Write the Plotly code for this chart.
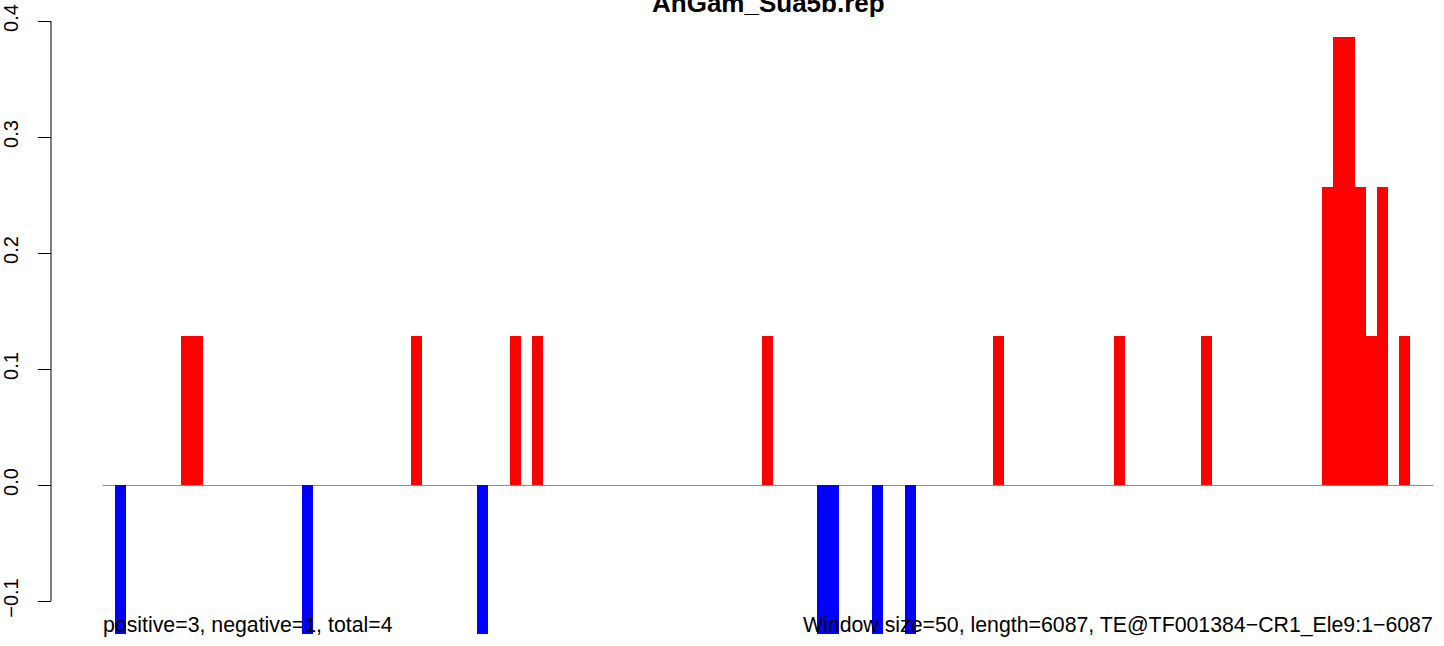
import plotly.graph_objects as go

# ---- data ----
window_size = 50
window_index = [0, 6, 7, 17, 27, 33, 36, 38, 59, 64, 65, 69, 72, 80, 91, 99,
                110, 111, 112, 113, 114, 115, 117]
values = [-0.1286, 0.1286, 0.1286, -0.1286, 0.1286, -0.1286, 0.1286, 0.1286,
          0.1286, -0.1286, -0.1286, -0.1286, -0.1286, 0.1286, 0.1286, 0.1286,
          0.2572, 0.3858, 0.3858, 0.2572, 0.1286, 0.2572, 0.1286]
y_ticks = [-0.1, 0.0, 0.1, 0.2, 0.3, 0.4]
y_tick_labels = ["\u22120.1", "0.0", "0.1", "0.2", "0.3", "0.4"]
title = "AnGam_Sua5b.rep"
left_note = "positive=3, negative=1, total=4"
right_note = "Window size=50, length=6087, TE@TF001384\u2212CR1_Ele9:1\u22126087"

W, H = 1444, 646
FONT = "Liberation Sans, Arial, Helvetica, sans-serif"

centers = [i * window_size + window_size / 2 for i in window_index]
colors = ["#FF0000" if v > 0 else "#0000FF" for v in values]

fig = go.Figure()
fig.add_trace(go.Bar(
    x=centers, y=values, width=[window_size] * len(values),
    marker=dict(color=colors, line=dict(width=0)),
    showlegend=False, hoverinfo="x+y",
))

# pixel geometry of the reference
px_left, px_right = 103, 1433          # plot region (zero line extent)
first_bar_left_px = 115
px_per_unit = 10.974 / window_size
x_range = [(px_left - first_bar_left_px) / px_per_unit,
           (px_right - first_bar_left_px) / px_per_unit]
zero_px = 485
px_per_y = 1160.0
y_range = [-(H - zero_px) / px_per_y, zero_px / px_per_y]
axis_x = 51 / W

fig.update_layout(
    width=W, height=H,
    margin=dict(l=0, r=0, t=0, b=0, autoexpand=False),
    paper_bgcolor="white", plot_bgcolor="rgba(0,0,0,0)",
    font=dict(family=FONT, color="black", size=20),
    bargap=0,
    xaxis=dict(domain=[px_left / W, px_right / W], range=x_range,
               showgrid=False, zeroline=False, showline=False,
               showticklabels=False, ticks="", fixedrange=True,
               automargin=False),
    yaxis=dict(domain=[0, 1], range=y_range,
               anchor="free", position=axis_x, side="left",
               showgrid=False,
               zeroline=True, zerolinecolor="#8C8C8C", zerolinewidth=1,
               showline=False,
               ticks="outside", ticklen=13, tickwidth=1, tickcolor="black",
               tickmode="array", tickvals=y_ticks, ticktext=y_tick_labels,
               tickangle=-90, tickfont=dict(size=20, family=FONT, color="black"),
               ticklabelstandoff=12, fixedrange=True, automargin=False),
    shapes=[
        # R-style axis line spanning only the labelled tick range
        dict(type="line", xref="paper", yref="y",
             x0=axis_x, x1=axis_x, y0=min(y_ticks), y1=max(y_ticks),
             line=dict(color="black", width=1)),
    ],
    annotations=[
        dict(text="<b>" + title + "</b>", xref="paper", yref="paper",
             x=(px_left + px_right) / 2 / W, y=1 - 19.5 / H,
             xanchor="center", yanchor="bottom", showarrow=False,
             font=dict(size=26, family=FONT, color="black")),
        dict(text=left_note, xref="paper", yref="paper",
             x=px_left / W, y=(H - 639) / H, xanchor="left", yanchor="bottom",
             xshift=-2, showarrow=False,
             font=dict(size=21.3, family=FONT, color="black")),
        dict(text=right_note, xref="paper", yref="paper",
             x=px_right / W, y=(H - 639) / H, xanchor="right", yanchor="bottom",
             xshift=2, showarrow=False,
             font=dict(size=21.3, family=FONT, color="black")),
    ],
)

fig.write_html("out.html",
               config={"displayModeBar": False},
               post_script="document.body.style.margin='0';")
